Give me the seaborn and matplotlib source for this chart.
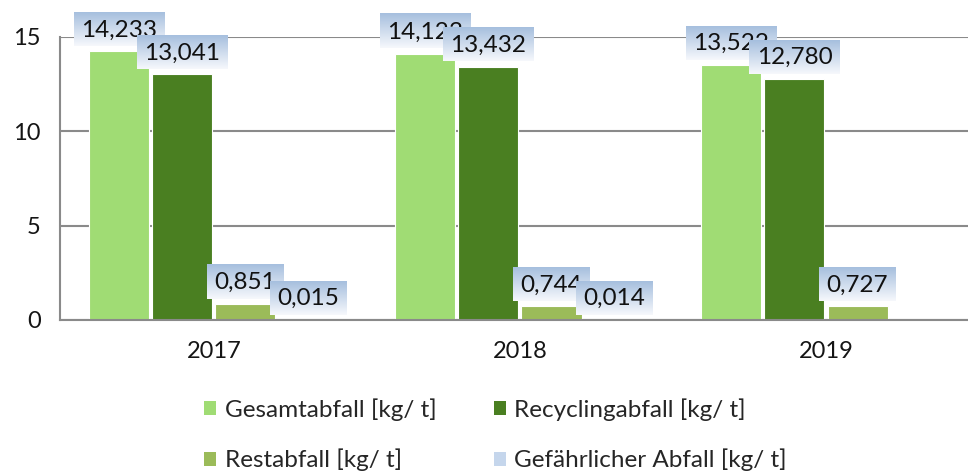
import numpy as np
import pandas as pd
import matplotlib
matplotlib.use('Agg')
import matplotlib.pyplot as plt
import seaborn as sns
from matplotlib.patches import Patch

years = ['2017', '2018', '2019']
series = ['Gesamtabfall [kg/ t]', 'Recyclingabfall [kg/ t]',
          'Restabfall [kg/ t]', 'Gefährlicher Abfall [kg/ t]']
gesamt = [14.233, 14.123, 13.522]
recycling = [13.041, 13.432, 12.780]
rest = [0.851, 0.744, 0.727]
gefaehrlich = [0.015, 0.014, None]
colors = ['#A0DC74', '#4A7F21', '#9BBB59', '#C5D6EC']
y_ticks = [0, 5, 10, 15]

rows = []
for name, vals in zip(series, [gesamt, recycling, rest, gefaehrlich]):
    for yr, v in zip(years, vals):
        if v is not None:
            rows.append({'Jahr': yr, 'Serie': name, 'Wert': v})
df = pd.DataFrame(rows)

sns.set_theme(style='white')
plt.rcParams['font.family'] = ['Lato', 'DejaVu Sans']

fig = plt.figure(figsize=(9.68, 4.74), dpi=100)
ax = fig.add_axes([0.062, 0.325, 0.938, 0.597])
sns.barplot(data=df, x='Jahr', y='Wert', hue='Serie', order=years,
            hue_order=series, palette=colors, width=0.824, gap=0.048,
            saturation=1, errorbar=None, legend=False, ax=ax,
            edgecolor='white', linewidth=0.8)

XLIM = (-0.503, 2.464)
ax.set_xlim(*XLIM)
ax.set_ylim(0, 15)
ax.set_yticks(y_ticks)
ax.set_xlabel('')
ax.set_ylabel('')
ax.yaxis.grid(True, color='#8A8A8A', linewidth=1.5)
ax.set_axisbelow(True)
for s in ['top', 'right']:
    ax.spines[s].set_visible(False)
for s in ['left', 'bottom']:
    ax.spines[s].set_color('#8A8A8A')
    ax.spines[s].set_linewidth(1.5)
ax.tick_params(axis='both', length=0, labelsize=17, colors='#151515')
ax.tick_params(axis='x', pad=15)
ax.tick_params(axis='y', pad=14)

# data labels
all_vals = [gesamt, recycling, rest, gefaehrlich]
texts = []
for cont, vals in zip(ax.containers, all_vals):
    labs = [f"{v:.3f}".replace('.', ',') for v in vals if v is not None]
    ts = ax.bar_label(cont, labels=labs, padding=7.6, fontsize=17.5, color='#111111')
    texts.extend(ts)

fig.canvas.draw()
renderer = fig.canvas.get_renderer()
inv = ax.transData.inverted()
top_c = np.array([0xA6, 0xBF, 0xDE]) / 255
bot_c = np.array([0xF6, 0xF8, 0xFC]) / 255
n = 64
grad = np.array([top_c + (bot_c - top_c) * (i / (n - 1)) for i in range(n)]).reshape(n, 1, 3)
z = 5
for t in texts:
    if not t.get_text():
        continue
    bb = t.get_window_extent(renderer)
    (x0, y0) = inv.transform((bb.x0 - 7.5, bb.y0 - 5.5))
    (x1, y1) = inv.transform((bb.x1 + 7.5, bb.y1 + 7.5))
    ax.imshow(grad, extent=(x0, x1, y0, y1), aspect='auto', zorder=z,
              clip_on=False, interpolation='bilinear')
    t.set_zorder(z + 1)
    t.set_clip_on(False)
    z += 2

ax.set_xlim(*XLIM)
ax.set_ylim(0, 15)

order = [0, 2, 1, 3]
handles = [Patch(facecolor=colors[i], edgecolor='none', label=series[i]) for i in order]
fig.legend(handles=handles, ncol=2, loc='upper left',
           bbox_to_anchor=(204 / 968, 1 - 398 / 474), frameon=False,
           fontsize=17.5, handlelength=0.5, handleheight=0.5,
           handletextpad=0.35, columnspacing=2.35, labelspacing=1.15,
           borderpad=0, borderaxespad=0)

fig.savefig('out.png', dpi=100)
